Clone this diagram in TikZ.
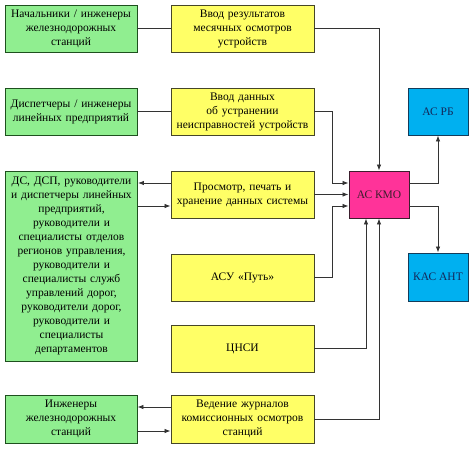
\documentclass[tikz,border=0pt]{standalone}
\usepackage{fontspec}
\setmainfont{Liberation Serif}
\newfontfamily\tnr{Liberation Serif}
\usetikzlibrary{arrows.meta,calc}
\definecolor{gfill}{RGB}{144,238,144}
\definecolor{gdraw}{RGB}{30,80,30}
\definecolor{yfill}{RGB}{255,255,102}
\definecolor{ydraw}{RGB}{70,70,40}
\definecolor{mfill}{RGB}{255,51,153}
\definecolor{mdraw}{RGB}{60,30,45}
\definecolor{bfill}{RGB}{0,176,240}
\definecolor{bdraw}{RGB}{20,60,90}
\definecolor{bluetext}{RGB}{20,40,90}
\tikzset{
  box/.style={draw, line width=0.9pt, inner sep=0pt, align=center,
    font=\tnr\fontsize{11.5}{14}\selectfont},
  gbox/.style={box, fill=gfill, draw=gdraw, minimum width=132pt, minimum height=47pt, text width=128pt},
  ybox/.style={box, fill=yfill, draw=ydraw, minimum width=143pt, minimum height=47pt, text width=141pt},
  mbox/.style={box, fill=mfill, draw=mdraw, minimum width=60pt, minimum height=47pt, text=mdraw},
  bbox/.style={box, fill=bfill, draw=bdraw, minimum width=60pt, minimum height=47pt, text=bluetext},
  ln/.style={draw=black!80, line width=0.8pt},
  arr/.style={ln, -{Latex[length=6pt,width=4.5pt]}}
}
\begin{document}
\begin{tikzpicture}[x=1pt,y=-1pt]
\useasboundingbox (0,0) rectangle (472,450);
% green
\node[gbox] (G1) at (71,28.5) {Начальники / инженеры\\железнодорожных\\станций};
\node[gbox] (G2) at (71,111.5) {Диспетчеры / инженеры\\линейных предприятий};
\node[gbox, minimum height=190pt] (G3) at (71.5,266) {ДС, ДСП, руководители\\и диспетчеры линейных\\предприятий,\\руководители и\\специалисты отделов\\регионов управления,\\руководители и\\специалисты служб\\управлений дорог,\\руководители дорог,\\руководители и\\специалисты\\департаментов};
\node[gbox, minimum height=48pt] (G4) at (71,419) {Инженеры\\железнодорожных\\станций};
% yellow
\node[ybox] (Y1) at (242.5,28.5) {Ввод результатов\\месячных осмотров\\устройств};
\node[ybox] (Y2) at (242.5,111.5) {Ввод данных\\об устранении\\неисправностей устройств};
\node[ybox] (Y3) at (242.5,194.5) {Просмотр, печать и\\хранение данных системы};
\node[ybox] (Y4) at (242.5,277.5) {АСУ «Путь»};
\node[ybox] (Y5) at (242.5,348.5) {ЦНСИ};
\node[ybox, minimum height=48pt] (Y6) at (242.5,419) {Ведение журналов\\комиссионных осмотров\\станций};
% center and right
\node[mbox] (M) at (379,194.5) {АС КМО};
\node[bbox] (B1) at (438,111.5) {АС РБ};
\node[bbox, minimum height=48pt] (B2) at (438,277) {КАС АНТ};
% connectors
\draw[ln] (G1.east) -- (Y1.west);
\draw[ln] (G2.east) -- (Y2.west);
\draw[arr] ([yshift=11.5pt]Y3.west) -- ([yshift=11.5pt]Y3.west -| G3.east);
\draw[arr] ([yshift=-11.5pt]Y3.west -| G3.east) -- ([yshift=-11.5pt]Y3.west);
\draw[arr] ([yshift=12pt]Y6.west) -- ([yshift=12pt]Y6.west -| G4.east);
\draw[arr] ([yshift=-12pt]Y6.west -| G4.east) -- ([yshift=-12pt]Y6.west);
\draw[arr] (Y1.east) -| (M.north);
\draw[arr] (Y2.east) -- ++(18,0) |- ([yshift=11.5pt]M.west);
\draw[arr] (Y3.east) -- (M.west);
\draw[arr] (Y4.east) -- ++(18,0) |- ([yshift=-11.5pt]M.west);
\draw[arr] (Y5.east) -| ([xshift=-13pt]M.south);
\draw[arr] (Y6.east) -| (M.south);
\draw[arr] ([yshift=11.5pt]M.east) -| (B1.south);
\draw[arr] ([yshift=-11.5pt]M.east) -| (B2.north);
\end{tikzpicture}
\end{document}
